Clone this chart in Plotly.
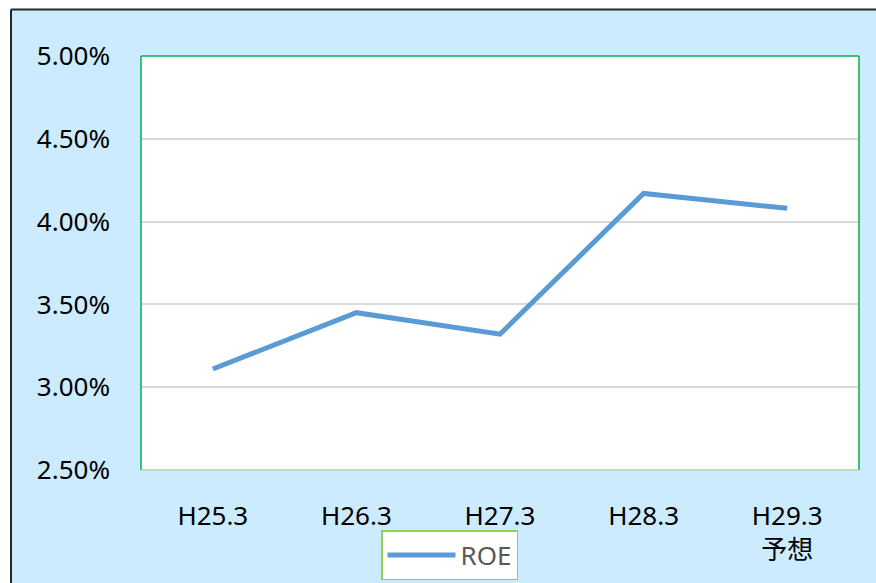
import plotly.graph_objects as go

categories = ["H25.3", "H26.3", "H27.3", "H28.3", "H29.3<br>予想"]
roe_values = [3.11, 3.45, 3.32, 4.17, 4.08]
series_name = "ROE"
y_ticks = [2.5, 3.0, 3.5, 4.0, 4.5, 5.0]
y_tick_labels = ["2.50%", "3.00%", "3.50%", "4.00%", "4.50%", "5.00%"]

FONT = "Noto Sans, Noto Sans CJK JP, sans-serif"
BLUE_BG = "#CCEBFF"

fig = go.Figure()
fig.add_trace(go.Scatter(
    x=categories, y=roe_values, mode="lines", name=series_name,
    line=dict(color="#5B9BD5", width=5),
))

W, H = 876, 583
L, R, T, B = 141, 17, 56, 113
pw, ph = W - L - R, H - T - B

def px_x(p):
    return (p - L) / pw

def px_y(p):
    return (H - B - p) / ph

shapes = [
    dict(type="rect", xref="paper", yref="paper", x0=px_x(-20), x1=px_x(900), y0=px_y(9), y1=px_y(-20),
         fillcolor="white", line=dict(width=0), layer="above"),
    dict(type="rect", xref="paper", yref="paper", x0=px_x(-20), x1=px_x(11), y0=px_y(600), y1=px_y(-20),
         fillcolor="white", line=dict(width=0), layer="above"),
    dict(type="line", xref="paper", yref="paper", x0=px_x(11), x1=px_x(900), y0=px_y(9.5), y1=px_y(9.5),
         line=dict(color="#262626", width=2), layer="above"),
    dict(type="line", xref="paper", yref="paper", x0=px_x(11), x1=px_x(11), y0=px_y(9.5), y1=px_y(600),
         line=dict(color="#262626", width=2), layer="above"),
    dict(type="line", xref="paper", yref="paper", x0=0, x1=1, y0=1, y1=1,
         line=dict(color="#00B050", width=1.5), layer="above"),
    dict(type="line", xref="paper", yref="paper", x0=0, x1=0, y0=0, y1=1,
         line=dict(color="#00B050", width=1.5), layer="above"),
    dict(type="line", xref="paper", yref="paper", x0=1, x1=1, y0=0, y1=1,
         line=dict(color="#00B050", width=1.5), layer="above"),
    dict(type="line", xref="paper", yref="paper", x0=0, x1=1, y0=0, y1=0,
         line=dict(color="#A9D8A0", width=1.5), layer="above"),
]

fig.update_layout(
    width=W, height=H,
    margin=dict(l=L, r=R, t=T, b=B, pad=0, autoexpand=False),
    paper_bgcolor=BLUE_BG, plot_bgcolor="white",
    font=dict(family=FONT, size=26, color="#000000"),
    shapes=shapes,
    showlegend=True,
    legend=dict(
        x=px_x(381), y=px_y(530), xanchor="left", yanchor="top",
        bgcolor="white", bordercolor="#92D050", borderwidth=1.5,
        font=dict(family=FONT, size=26, color="#595959"),
        orientation="h", itemwidth=68,
    ),
    xaxis=dict(
        type="category", range=[-0.5, 4.5], showgrid=False, zeroline=False, showline=False,
        ticks="", ticklabelstandoff=28, tickfont=dict(family=FONT, size=26, color="#000000"),
    ),
    yaxis=dict(
        range=[2.5, 5.0], tickvals=y_ticks, ticktext=y_tick_labels,
        showgrid=True, gridcolor="#D9D9D9", gridwidth=1.5, zeroline=False, showline=False,
        ticks="", ticklabelstandoff=30, tickfont=dict(family=FONT, size=26, color="#000000"),
    ),
)

fig.write_html(
    "out.html",
    config={"displayModeBar": False},
    post_script="document.body.style.margin='0';document.body.style.overflow='hidden';",
)
